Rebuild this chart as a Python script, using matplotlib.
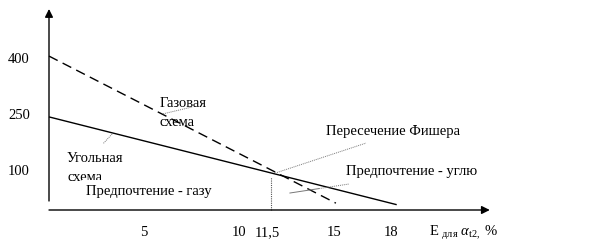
import matplotlib
matplotlib.use("Agg")
import matplotlib.pyplot as plt

plt.rcParams['font.family'] = ['Liberation Serif', 'DejaVu Serif']
plt.rcParams['mathtext.fontset'] = 'custom'
plt.rcParams['mathtext.rm'] = 'Liberation Serif'
plt.rcParams['mathtext.it'] = 'Liberation Serif:italic'

# ---- data (schematic values) ----
x_ticks = [5, 10, 11.5, 15, 18]
x_tick_labels = ["5", "10", "11,5", "15", "18"]
y_ticks = [400, 250, 100]
y_tick_labels = ["400", "250", "100"]

coal_x = [0, 18.3]
coal_y = [245, 14]
gas_x = [0, 15.1]
gas_y = [405, 18]

fisher_x = 11.5
fisher_y = 87

# ---- figure ----
fig = plt.figure(figsize=(5.92, 2.53), dpi=100)
ax = fig.add_axes([0, 0, 1, 1])
ax.set_xlim(-49 / 19, (592 - 49) / 19)
ax.set_ylim(-(253 - 211) / 0.38, 211 / 0.38)
ax.axis('off')

# axes with arrows
ax.annotate('', xy=(0, 529), xytext=(0, 23.7),
            arrowprops=dict(arrowstyle='-|>', color='black', lw=1.0,
                            mutation_scale=12, shrinkA=0, shrinkB=0))
ax.annotate('', xy=(23.2, 0), xytext=(0, 0),
            arrowprops=dict(arrowstyle='-|>', color='black', lw=1.0,
                            mutation_scale=12, shrinkA=0, shrinkB=0))

# lines
ax.plot(coal_x, coal_y, color='black', lw=1.0, solid_capstyle='butt')
ax.plot(gas_x, gas_y, color='black', lw=1.0, dashes=(7, 4))

# dotted vertical at Fisher intersection
ax.plot([fisher_x + 0.2, fisher_x + 0.2], [0, fisher_y], color='#555555', lw=0.8,
        linestyle=(0, (1, 1)))

# leader lines
lead = dict(color='#777777', lw=0.7, linestyle=(0, (1, 1)))
ax.plot([6.0, 7.53], [253, 271], **lead)           # gas label
ax.plot([3.32, 2.84], [200, 174], **lead)          # coal label
ax.plot([11.9, 16.68], [97, 176], **lead)          # Fisher
ax.plot([12.68, 14.2], [44.7, 56.3], color='#777777', lw=0.7)
ax.plot([14.2, 15.79], [56.3, 68.4], **lead)       # coal preference

fs = 10.5
# tick labels
for v, lab in zip(x_ticks, x_tick_labels):
    ax.text(v, -57, lab, ha='center', va='center', fontsize=fs)
for v, lab in zip(y_ticks, y_tick_labels):
    ax.text(-1.58, v * 0.985 + 5, lab, ha='center', va='center', fontsize=fs)

ax.text(20.0, -57, r"E $_{\mathrm{для}}$ $\alpha_{\mathrm{t2,}}$ %",
        ha='left', va='center', fontsize=fs)

# annotations
ax.text(5.84, 284, "Газовая", ha='left', va='center', fontsize=fs)
ax.text(5.84, 234, "схема", ha='left', va='center', fontsize=fs)
ax.text(0.95, 139, "Угольная", ha='left', va='center', fontsize=fs)
ax.text(0.95, 89, "схема", ha='left', va='center', fontsize=fs)
ax.text(1.95, 50, "Предпочтение - газу", ha='left', va='center', fontsize=fs,
        bbox=dict(facecolor='white', edgecolor='none', pad=3.0))
ax.text(14.58, 208, "Пересечение Фишера", ha='left', va='center', fontsize=fs)
ax.text(15.63, 103, "Предпочтение - углю", ha='left', va='center', fontsize=fs)

fig.savefig("out.png", dpi=100)
